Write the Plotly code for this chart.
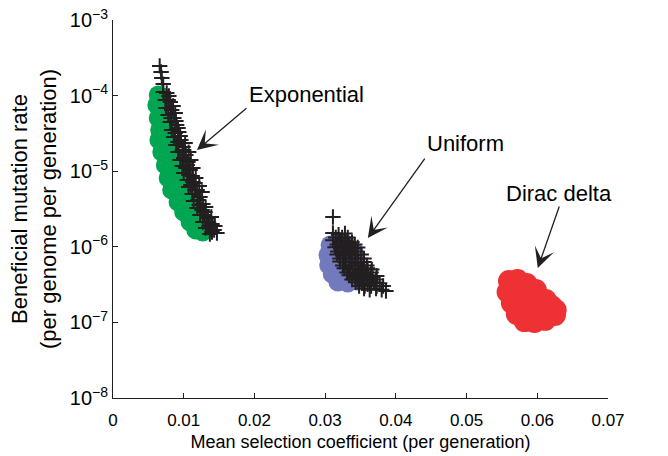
import numpy as np
import plotly.graph_objects as go

# ---- data ----
exp_circle_s = [0.0064, 0.0069, 0.0062, 0.0071, 0.0064, 0.0074, 0.0066, 0.0076, 0.0065, 0.0075,
                0.0083, 0.0069, 0.0081, 0.0092, 0.0074, 0.0085, 0.0095, 0.0078, 0.0089, 0.0102,
                0.0083, 0.0095, 0.0109, 0.0092, 0.0103, 0.0116, 0.0100, 0.0112, 0.0123, 0.0109,
                0.0120, 0.0130, 0.0117, 0.0127, 0.0134]
exp_circle_u = [1.02e-4, 9.57e-5, 7.51e-5, 6.86e-5, 5.06e-5, 5.06e-5, 3.51e-5, 3.51e-5, 2.59e-5, 2.43e-5,
                2.22e-5, 1.79e-5, 1.64e-5, 1.50e-5, 1.21e-5, 1.10e-5, 9.75e-6, 8.13e-6, 7.20e-6, 6.56e-6,
                5.64e-6, 4.84e-6, 4.84e-6, 3.92e-6, 3.57e-6, 3.57e-6, 2.89e-6, 2.64e-6, 2.64e-6, 2.13e-6,
                2.00e-6, 2.13e-6, 1.67e-6, 1.57e-6, 1.88e-6]

exp_cross_s = [0.0066, 0.0068, 0.0069, 0.0071, 0.0071, 0.0076, 0.0079, 0.0074, 0.0081, 0.0075,
               0.0083, 0.0088, 0.0078, 0.0086, 0.0081, 0.0090, 0.0092, 0.0083, 0.0093, 0.0086,
               0.0096, 0.0089, 0.0099, 0.0100, 0.0092, 0.0103, 0.0095, 0.0106, 0.0098, 0.0103,
               0.0109, 0.0100, 0.0112, 0.0105, 0.0116, 0.0110, 0.0107, 0.0119, 0.0112, 0.0123,
               0.0120, 0.0114, 0.0127, 0.0119, 0.0126, 0.0130, 0.0123, 0.0134, 0.0127, 0.0140,
               0.0136, 0.0131, 0.0143, 0.0137, 0.0147,
               0.0078, 0.0085, 0.0082, 0.0089, 0.0088, 0.0095, 0.0092, 0.0102, 0.0098, 0.0107,
               0.0100, 0.0110, 0.0105, 0.0113, 0.0107, 0.0117, 0.0113, 0.0122, 0.0116, 0.0126,
               0.0122, 0.0131, 0.0129, 0.0139, 0.0133, 0.0144, 0.0140]
exp_cross_u = [2.47e-4, 2.05e-4, 1.71e-4, 1.42e-4, 1.12e-4, 1.08e-4, 9.88e-5, 8.75e-5, 8.22e-5, 6.86e-5,
               6.45e-5, 5.89e-5, 5.54e-5, 5.06e-5, 4.48e-5, 4.09e-5, 3.73e-5, 3.51e-5, 3.30e-5, 2.83e-5,
               2.59e-5, 2.22e-5, 2.09e-5, 1.91e-5, 1.79e-5, 1.64e-5, 1.41e-5, 1.32e-5, 1.17e-5, 1.10e-5,
               1.04e-5, 9.46e-6, 8.64e-6, 7.65e-6, 6.98e-6, 6.56e-6, 6.18e-6, 5.64e-6, 4.99e-6, 4.56e-6,
               4.16e-6, 4.04e-6, 3.68e-6, 3.26e-6, 3.07e-6, 2.89e-6, 2.64e-6, 2.40e-6, 2.13e-6, 2.00e-6,
               1.88e-6, 1.77e-6, 1.67e-6, 1.48e-6, 1.52e-6,
               8.75e-5, 7.28e-5, 5.06e-5, 4.61e-5, 3.20e-5, 2.92e-5, 2.43e-5, 2.36e-5, 1.91e-5, 1.79e-5,
               1.50e-5, 1.41e-5, 1.21e-5, 1.10e-5, 8.91e-6, 8.13e-6, 7.20e-6, 6.37e-6, 5.64e-6, 5.31e-6,
               3.57e-6, 3.36e-6, 2.64e-6, 2.48e-6, 2.13e-6, 1.88e-6, 1.57e-6]

uni_circle_s = [0.0307, 0.0318, 0.0329, 0.0304, 0.0317, 0.0329, 0.0341, 0.0305, 0.0318, 0.0331,
                0.0343, 0.0310, 0.0322, 0.0335, 0.0348, 0.0318, 0.0332, 0.0345, 0.0353]
uni_circle_u = [1.06e-6, 1.16e-6, 1.09e-6, 7.79e-7, 8.28e-7, 8.03e-7, 8.54e-7, 5.74e-7, 5.92e-7, 6.11e-7,
                6.30e-7, 4.37e-7, 4.37e-7, 4.50e-7, 4.64e-7, 3.42e-7, 3.32e-7, 3.53e-7, 3.87e-7]

uni_cross_s = [0.0311,
               0.0311, 0.0319, 0.0328,
               0.0315, 0.0324, 0.0332,
               0.0311, 0.0321, 0.0329, 0.0338,
               0.0317, 0.0325, 0.0334, 0.0342,
               0.0314, 0.0322, 0.0331, 0.0339, 0.0346,
               0.0318, 0.0327, 0.0335, 0.0343,
               0.0317, 0.0325, 0.0334, 0.0342, 0.0351,
               0.0321, 0.0329, 0.0338, 0.0346, 0.0355,
               0.0321, 0.0329, 0.0338, 0.0346, 0.0355,
               0.0325, 0.0334, 0.0342, 0.0351, 0.0359,
               0.0327, 0.0335, 0.0343, 0.0352, 0.0360, 0.0366,
               0.0331, 0.0339, 0.0348, 0.0356, 0.0365,
               0.0334, 0.0342, 0.0351, 0.0359, 0.0367, 0.0373,
               0.0338, 0.0346, 0.0355, 0.0363, 0.0372,
               0.0343, 0.0352, 0.0360, 0.0369, 0.0377,
               0.0348, 0.0356, 0.0365, 0.0373, 0.0382,
               0.0355, 0.0363, 0.0372, 0.0380, 0.0386]
uni_cross_u = [2.48e-6,
               1.52e-6, 1.45e-6, 1.50e-6,
               1.33e-6, 1.33e-6, 1.33e-6,
               1.22e-6, 1.17e-6, 1.20e-6, 1.15e-6,
               1.07e-6, 1.07e-6, 1.07e-6, 1.07e-6,
               9.9e-7, 9.4e-7, 9.7e-7, 9.5e-7, 9.8e-7,
               8.67e-7, 8.67e-7, 8.67e-7, 8.67e-7,
               7.9e-7, 7.6e-7, 8.0e-7, 7.7e-7, 7.9e-7,
               7.0e-7, 7.0e-7, 7.0e-7, 7.0e-7, 7.0e-7,
               6.4e-7, 6.2e-7, 6.4e-7, 6.1e-7, 6.3e-7,
               5.66e-7, 5.66e-7, 5.66e-7, 5.66e-7, 5.66e-7,
               5.2e-7, 5.0e-7, 5.1e-7, 4.9e-7, 5.2e-7, 5.0e-7,
               4.57e-7, 4.57e-7, 4.57e-7, 4.57e-7, 4.57e-7,
               4.2e-7, 4.0e-7, 4.1e-7, 4.2e-7, 4.0e-7, 4.1e-7,
               3.69e-7, 3.69e-7, 3.69e-7, 3.69e-7, 3.69e-7,
               3.4e-7, 3.3e-7, 3.2e-7, 3.4e-7, 3.3e-7,
               3.03e-7, 3.03e-7, 3.03e-7, 3.03e-7, 3.03e-7,
               2.8e-7, 2.7e-7, 2.8e-7, 2.7e-7, 2.6e-7]

dirac_s = [0.0560, 0.0572, 0.0585, 0.0598, 0.0558, 0.0571, 0.0585, 0.0599, 0.0612, 0.0564,
           0.0578, 0.0592, 0.0606, 0.0620, 0.0626, 0.0571, 0.0585, 0.0599, 0.0613, 0.0625,
           0.0582, 0.0596, 0.0611]
dirac_u = [3.53e-7, 3.64e-7, 3.22e-7, 2.68e-7, 2.52e-7, 2.52e-7, 2.38e-7, 2.10e-7, 1.98e-7, 1.81e-7,
           1.75e-7, 1.65e-7, 1.55e-7, 1.65e-7, 1.46e-7, 1.29e-7, 1.22e-7, 1.14e-7, 1.18e-7, 1.25e-7,
           1.04e-7, 1.01e-7, 1.08e-7]

x_ticks = [0, 0.01, 0.02, 0.03, 0.04, 0.05, 0.06, 0.07]
x_tick_text = ["0", "0.01", "0.02", "0.03", "0.04", "0.05", "0.06", "0.07"]
y_ticks = [1e-8, 1e-7, 1e-6, 1e-5, 1e-4, 1e-3]
y_tick_text = ["10<sup>−8</sup>", "10<sup>−7</sup>", "10<sup>−6</sup>",
               "10<sup>−5</sup>", "10<sup>−4</sup>", "10<sup>−3</sup>"]

labels = ["Exponential", "Uniform", "Dirac delta"]

# ---- styles ----
FONT = "Liberation Sans, Arial, Helvetica, sans-serif"
INK = "#231F20"
GREEN = "#00A651"
BLUE = "#7379BD"
RED = "#EE3135"
CROSS = dict(symbol="cross-thin", size=11, line=dict(width=2.0, color=INK))

fig = go.Figure()
fig.add_trace(go.Scatter(x=exp_circle_s, y=exp_circle_u, mode="markers",
                         marker=dict(size=19, color=GREEN, line=dict(width=0)),
                         name="Exponential (fit)", showlegend=False))
fig.add_trace(go.Scatter(x=exp_cross_s, y=exp_cross_u, mode="markers", marker=CROSS,
                         name="Exponential", showlegend=False))
fig.add_trace(go.Scatter(x=uni_circle_s, y=uni_circle_u, mode="markers",
                         marker=dict(size=19, color=BLUE, line=dict(width=0)),
                         name="Uniform (fit)", showlegend=False))
fig.add_trace(go.Scatter(x=uni_cross_s, y=uni_cross_u, mode="markers", marker=CROSS,
                         name="Uniform", showlegend=False))
fig.add_trace(go.Scatter(x=dirac_s, y=dirac_u, mode="markers",
                         marker=dict(size=22, color=RED, line=dict(width=0)),
                         name="Dirac delta", showlegend=False))

# text labels
label_pos = [(0.0273, -3.99), (0.0498, -4.64), (0.0631, -5.30)]
for txt, (lx, ly) in zip(labels, label_pos):
    fig.add_annotation(x=lx, y=ly, xref="x", yref="y", text=txt, showarrow=False,
                       font=dict(family=FONT, size=22, color="black"))

# arrows (tip in data coords, tail as pixel offset)
arrow_specs = [(0.01187, -4.720, 51, -43), (0.03604, -5.884, 58, -81), (0.06007, -6.280, 22, -63)]
for tx, ty, axo, ayo in arrow_specs:
    fig.add_annotation(x=tx, y=ty, xref="x", yref="y", text="", showarrow=True,
                       ax=axo, ay=ayo, arrowhead=3, arrowsize=2.6, arrowwidth=1.3,
                       arrowcolor=INK, standoff=0)

fig.update_layout(
    width=668, height=456,
    margin=dict(l=113, r=60, t=20, b=58, autoexpand=False),
    plot_bgcolor="white", paper_bgcolor="white",
    font=dict(family=FONT, color="black"),
    showlegend=False,
)
fig.update_xaxes(
    range=[0, 0.07], tickvals=x_ticks, ticktext=x_tick_text,
    showline=True, linecolor=INK, linewidth=1, mirror=False,
    ticks="inside", ticklen=5, tickcolor=INK, tickwidth=1,
    showgrid=False, zeroline=False, ticklabelstandoff=7,
    tickfont=dict(family=FONT, size=17, color="black"),
    title=dict(text="Mean selection coefficient (per generation)",
               font=dict(family=FONT, size=18, color="black"), standoff=5),
    automargin=False,
)
fig.update_yaxes(
    type="log", range=[-8, -3], tickvals=y_ticks, ticktext=y_tick_text,
    showline=True, linecolor=INK, linewidth=1, mirror=False,
    ticks="inside", ticklen=5, tickcolor=INK, tickwidth=1,
    showgrid=False, zeroline=False, ticklabeloverflow="allow",
    tickfont=dict(family=FONT, size=20, color="black"),
    title=dict(text="Beneficial mutation rate<br>(per genome per generation)",
               font=dict(family=FONT, size=22, color="black"), standoff=7),
    automargin=False,
)

# remove the browser's default 8px body margin so the figure sits at the page origin
fig.write_html("out.html", config={"displayModeBar": False},
               post_script="document.body.style.margin='0px';")
